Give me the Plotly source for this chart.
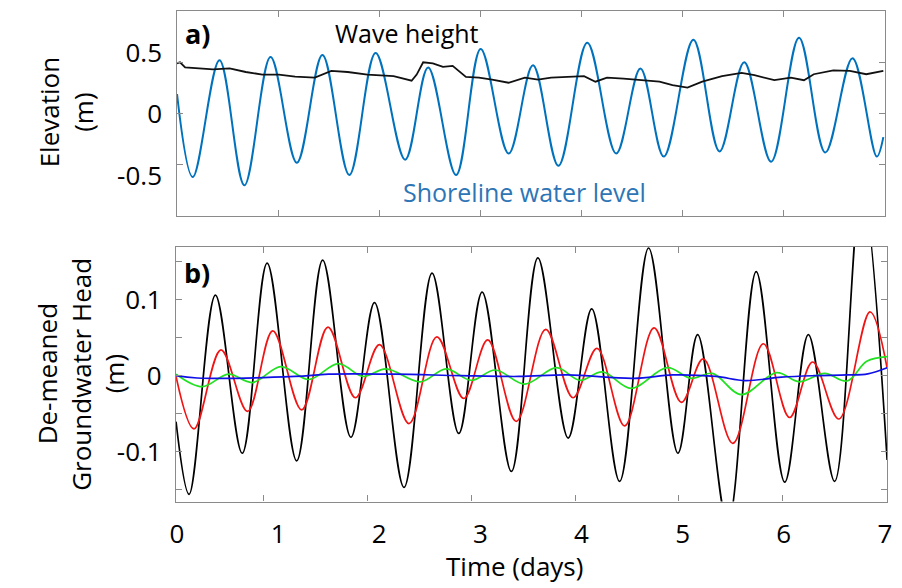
import plotly.graph_objects as go

W, H = 902, 588
FONT = "Open Sans"

# ---------------- Panel a ----------------
# Shoreline water level: extrema (days, m)
shore_t = [0, 0.156, 0.42, 0.666, 0.925, 1.185, 1.438, 1.704, 1.964, 2.256, 2.483, 2.76,
           3.003, 3.28, 3.52, 3.772, 4.057, 4.343, 4.583, 4.814, 5.106, 5.365, 5.609,
           5.875, 6.151, 6.411, 6.68, 6.92, 6.985]
shore_v = [0.19, -0.62, 0.52, -0.70, 0.55, -0.48, 0.57, -0.60, 0.59, -0.45, 0.45, -0.60,
           0.63, -0.39, 0.47, -0.51, 0.69, -0.39, 0.44, -0.42, 0.72, -0.37, 0.50,
           -0.47, 0.74, -0.38, 0.54, -0.42, -0.23]

# Wave height (days, m)
wave_t = [0, 0.03, 0.08, 0.195, 0.357, 0.52, 0.68, 0.844, 1.007, 1.168, 1.363, 1.526,
          1.688, 1.883, 2.142, 2.32, 2.37, 2.434, 2.53, 2.63, 2.726, 2.857, 2.986, 3.116,
          3.278, 3.44, 3.57, 3.70, 3.863, 4.025, 4.138, 4.252, 4.415, 4.61, 4.771, 4.90,
          5.048, 5.194, 5.39, 5.583, 5.71, 5.907, 6.07, 6.20, 6.297, 6.49, 6.654, 6.816, 6.985]
wave_v = [0.49, 0.50, 0.45, 0.44, 0.43, 0.44, 0.405, 0.38, 0.38, 0.36, 0.35, 0.415,
          0.405, 0.38, 0.365, 0.32, 0.38, 0.50, 0.49, 0.455, 0.465, 0.357, 0.35, 0.33,
          0.30, 0.35, 0.33, 0.35, 0.357, 0.364, 0.31, 0.35, 0.34, 0.325, 0.31, 0.276,
          0.253, 0.31, 0.364, 0.396, 0.374, 0.325, 0.35, 0.325, 0.383, 0.42, 0.415, 0.383, 0.415]

# ---------------- Panel b ----------------
blk_t = [0.153, 0.279, 0.532, 0.791, 1.031, 1.316, 1.566, 1.838, 2.066, 2.35, 2.62, 2.878,
         3.103, 3.385, 3.64, 3.932, 4.159, 4.428, 4.707, 4.99, 5.18, 5.47, 5.744, 6.019,
         6.247, 6.50, 6.76, 7.006]
blk_v = [-0.0605, -0.156, 0.106, -0.102, 0.148, -0.112, 0.152, -0.081, 0.096, -0.147,
         0.135, -0.076, 0.11, -0.126, 0.155, -0.082, 0.088, -0.139, 0.168, -0.102, 0.054,
         -0.195, 0.137, -0.140, 0.054, -0.139, 0.25, -0.111]

red_t = [0.153, 0.326, 0.586, 0.842, 1.085, 1.364, 1.617, 1.882, 2.113, 2.398, 2.667,
         2.926, 3.157, 3.432, 3.716, 3.979, 4.21, 4.476, 4.76, 5.023, 5.234, 5.519, 5.813,
         6.066, 6.288, 6.54, 6.841, 7.006]
red_v = [-0.001, -0.070, 0.034, -0.047, 0.059, -0.045, 0.064, -0.029, 0.041, -0.063,
         0.051, -0.030, 0.047, -0.060, 0.061, -0.029, 0.036, -0.066, 0.063, -0.035, 0.022,
         -0.089, 0.042, -0.055, 0.018, -0.057, 0.084, 0.010]

grn_t = [0.153, 0.405, 0.658, 0.889, 1.164, 1.433, 1.718, 1.955, 2.176, 2.508, 2.755,
         2.999, 3.23, 3.514, 3.821, 4.043, 4.264, 4.539, 4.887, 5.117, 5.323, 5.601, 5.94,
         6.161, 6.405, 6.62, 6.81, 7.006]
grn_v = [0.002, -0.0145, 0.002, -0.009, 0.012, -0.005, 0.016, -0.001, 0.009, -0.008,
         0.009, -0.006, 0.0075, -0.011, 0.0105, -0.006, 0.005, -0.0166, 0.0105, -0.0035,
         0.003, -0.025, 0.004, -0.008, 0.003, -0.007, 0.019, 0.025]

blu_t = [0.153, 0.358, 1.3, 1.623, 2.26, 2.9, 3.457, 3.93, 4.565, 4.94, 5.355, 5.64,
         5.987, 6.30, 6.62, 6.82, 7.006]
blu_v = [0.0, -0.003, -0.001, 0.002, 0.002, 0.0, -0.001, 0.001, -0.0035, 0.001, -0.001,
         -0.0065, -0.002, 0.0, 0.001, 0.0025, 0.0105]

# Tick labels
time_ticks = [0, 1, 2, 3, 4, 5, 6, 7]
time_labels = ["0", "1", "2", "3", "4", "5", "6", "7"]
elev_ticks = [-0.5, 0, 0.5]
elev_labels = ["-0.5", "0", "0.5"]
head_ticks = [-0.15, -0.1, -0.05, 0, 0.05, 0.1, 0.15]
head_labels = ["", "-0.1", "", "0", "", "0.1", ""]


def px(x):
    return x / W


def py(y):
    return 1 - y / H


FRAME = "#8a8a8a"
fig = go.Figure()

# Panel a traces
fig.add_trace(go.Scatter(x=shore_t, y=shore_v, mode="lines", xaxis="x", yaxis="y",
                         line=dict(color="#0072BD", width=2, shape="spline", smoothing=1),
                         showlegend=False, hoverinfo="skip"))
fig.add_trace(go.Scatter(x=wave_t, y=wave_v, mode="lines", xaxis="x", yaxis="y",
                         line=dict(color="#111111", width=1.8),
                         showlegend=False, hoverinfo="skip"))
# Panel b traces
for t, v, c in [(blk_t, blk_v, "#000000"), (red_t, red_v, "#F01414"),
                (grn_t, grn_v, "#22E022"), (blu_t, blu_v, "#1010E6")]:
    fig.add_trace(go.Scatter(x=t, y=v, mode="lines", xaxis="x2", yaxis="y2",
                             line=dict(color=c, width=1.7, shape="spline", smoothing=1),
                             showlegend=False, hoverinfo="skip"))
# helper (label-only) subplots
fig.add_trace(go.Scatter(x=[None], y=[None], xaxis="x", yaxis="y3", showlegend=False, hoverinfo="skip"))
fig.add_trace(go.Scatter(x=[None], y=[None], xaxis="x3", yaxis="y2", showlegend=False, hoverinfo="skip"))

frame_axis = dict(showline=True, linecolor=FRAME, linewidth=1.2, mirror="ticks",
                  ticks="inside", ticklen=6, tickcolor=FRAME, tickwidth=1.2,
                  showgrid=False, zeroline=False)
label_font = dict(family=FONT, size=26, color="#000000")

fig.update_layout(
    width=W, height=H,
    margin=dict(l=0, r=0, t=0, b=0, pad=0),
    paper_bgcolor="white", plot_bgcolor="rgba(0,0,0,0)",
    font=dict(family=FONT, size=26, color="#000000"),
    xaxis=dict(domain=[px(172.7), px(891.7)], range=[0, 7], anchor="y",
               tickvals=[1, 2, 3, 4, 5, 6], showticklabels=False, **frame_axis),
    yaxis=dict(domain=[py(216), py(11)], range=[-1, 1], anchor="x",
               tickvals=elev_ticks, showticklabels=False, **frame_axis),
    yaxis3=dict(overlaying="y", anchor="x", side="left", range=[-0.829, 0.837],
                tickvals=elev_ticks, ticktext=elev_labels, ticks="", showline=False,
                showgrid=False, zeroline=False, tickfont=label_font, ticklabelstandoff=14),
    xaxis2=dict(domain=[px(171.7), px(894)], range=[0.153, 7.006], anchor="y2",
                tickvals=[1, 2, 3, 4, 5, 6], showticklabels=False, **frame_axis),
    yaxis2=dict(domain=[py(501.5), py(246.7)], range=[-0.1655, 0.1697], anchor="x2",
                tickvals=head_ticks, ticktext=head_labels, tickfont=label_font,
                ticklabelstandoff=8, **frame_axis),
    xaxis3=dict(domain=[px(172.7), px(891.7)], range=[0, 7], anchor="y2", side="bottom",
                tickvals=time_ticks, ticktext=time_labels, ticks="", showline=False,
                showgrid=False, zeroline=False, tickfont=label_font, ticklabelstandoff=14),
)

ann = [
    dict(text="Wave height", x=px(406), y=py(33), font=dict(size=25, color="#000000")),
    dict(text="Shoreline water level", x=px(526), y=py(192), font=dict(size=25, color="#2E75B6")),
    dict(text="<b>a)</b>", x=px(193), y=py(33), font=dict(size=27, color="#000000")),
    dict(text="<b>b)</b>", x=px(193), y=py(272), font=dict(size=27, color="#000000")),
    dict(text="Time (days)", x=px(515), y=py(566), font=dict(size=26, color="#000000")),
    dict(text="Elevation", x=px(43), y=py(112), textangle=-90, font=dict(size=26, color="#000000")),
    dict(text="(m)", x=px(77), y=py(112), textangle=-90, font=dict(size=26, color="#000000")),
    dict(text="De-meaned", x=px(41), y=py(374), textangle=-90, font=dict(size=26, color="#000000")),
    dict(text="Groundwater Head", x=px(75), y=py(374), textangle=-90, font=dict(size=26, color="#000000")),
    dict(text="(m)", x=px(109), y=py(374), textangle=-90, font=dict(size=26, color="#000000")),
]
for a in ann:
    a.update(xref="paper", yref="paper", showarrow=False, xanchor="center", yanchor="middle")
    a["font"]["family"] = FONT
fig.update_layout(annotations=ann)

fig.write_html("out.html", config={"displayModeBar": False},
               post_script="document.body.style.margin='0';document.body.style.overflow='hidden';")
